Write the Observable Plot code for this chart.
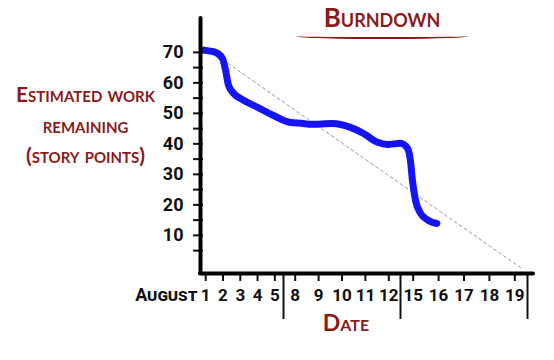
<!DOCTYPE html>
<html>
<head>
<meta charset="utf-8">
<script src="https://cdn.jsdelivr.net/npm/d3@7"></script>
<script src="https://cdn.jsdelivr.net/npm/@observablehq/plot@0.6"></script>
<style>
  body { margin: 0; background: #fff; }
  #wrap { position: relative; width: 554px; height: 360px; overflow: hidden; }
  #title {
    position: absolute; left: 296px; top: 2px; width: 172px;
    text-align: center; font-family: Lato, "DejaVu Sans", sans-serif;
    font-weight: bold; font-variant: small-caps; font-size: 26px; line-height: 30px;
    color: #8b1a1a; border-bottom: 2px solid #8b1a1a; padding-bottom: 5px; border-radius: 0 0 40% 40% / 0 0 3px 3px;
  }
</style>
</head>
<body>
<div id="wrap"><div id="title">Burndown</div></div>
<script>
// ---- data ----
const days = [1, 2, 3, 4, 5, 8, 9, 10, 11, 12, 15, 16, 17, 18, 19];
const dayIndex = days.map((d, i) => i);
const weekBreaks = [4.5, 9.5, 14.5];
const yTickLabels = [10, 20, 30, 40, 50, 60, 70];
const yMinorTicks = [5, 10, 15, 20, 25, 30, 35, 40, 45, 50, 55, 60, 65, 70];
// actual remaining work (x = working-day index, fractional within day)
const actualPos  = [-0.13, 0.57, 0.97, 1.15, 1.32, 1.61, 2.19, 3.0, 3.92, 4.8, 5.35, 5.65, 6.59, 7.36, 7.92, 8.52, 8.95, 9.5, 9.78, 9.89, 9.97, 10.09, 10.29, 10.6, 10.93];
const actualWork = [70.7, 70, 68, 64.1, 59.2, 56.6, 54.3, 52, 49.3, 47, 46.7, 46.4, 46.7, 45.4, 43.4, 40.5, 39.8, 40.2, 38.5, 34.6, 28, 21.5, 17.2, 14.9, 13.9];
// ideal burndown
const idealPos  = [-0.13, 14.3];
const idealWork = [72, -1];

const XMIN = -0.3, YMIN = -2.5, YMAX = 81.1;
const actual = actualPos.map((x, i) => ({x, y: actualWork[i]}));
const ideal = idealPos.map((x, i) => ({x, y: idealWork[i]}));

const red = "#8b1a1a";
const font = 'Roboto, "DejaVu Sans", sans-serif';
const redFont = 'Lato, "DejaVu Sans", sans-serif';

const chart = Plot.plot({
  width: 554,
  height: 360,
  marginLeft: 200,
  marginRight: 21,
  marginTop: 18,
  marginBottom: 87,
  style: {fontFamily: font, fontSize: "17px", fontWeight: "bold", background: "transparent", overflow: "visible", color: "#111"},
  x: {type: "linear", domain: [XMIN, 4.5, 9.5, 14.5], range: [200, 283, 400, 527], axis: null},
  y: {domain: [YMIN, YMAX], axis: null},
  marks: [
    // ideal line
    Plot.line(ideal, {x: "x", y: "y", stroke: "#999", strokeWidth: 1, strokeDasharray: "3,3"}),
    // actual line
    Plot.line(actual, {x: "x", y: "y", stroke: "#1414f5", strokeWidth: 7, curve: "monotone-x", strokeLinecap: "round"}),
    // y ticks
    Plot.axisY({ticks: yMinorTicks, tickSize: 10, tickFormat: () => "", label: null, dx: 3, strokeWidth: 2}),
    // x ticks
    Plot.axisX({ticks: dayIndex, tickSize: 8, tickFormat: () => "", label: null, strokeWidth: 2}),
    // week separators
    Plot.axisX({ticks: weekBreaks, tickSize: 46, tickFormat: () => "", label: null, strokeWidth: 2}),
    // axes lines
    Plot.ruleX([XMIN], {stroke: "#000", strokeWidth: 4, strokeLinecap: "round"}),
    Plot.ruleY([YMIN], {stroke: "#000", strokeWidth: 4, strokeLinecap: "round"}),
    // labels
    Plot.text(yTickLabels, {y: d => d, text: d => String(d), frameAnchor: "left", dx: -17, textAnchor: "end", fontSize: 18, fill: "#111"}),
    Plot.text(dayIndex, {x: d => d, text: i => String(days[i]), frameAnchor: "bottom", dy: 27, fill: "#111"}),
    Plot.text(["August"], {frameAnchor: "bottom-left", dx: -3, dy: 27, textAnchor: "end", fontVariant: "small-caps", fontSize: 18, fill: "#111", text: d => d}),
    Plot.text(["Date"], {frameAnchor: "bottom", dx: -21, dy: 57, fill: red, fontFamily: redFont, fontVariant: "small-caps", fontSize: 23, text: d => d}),
    Plot.text(["Estimated work\nremaining\n(story points)"], {frameAnchor: "left", dx: -115, dy: -23, textAnchor: "middle", lineHeight: 1.45, fill: red, fontFamily: redFont, fontVariant: "small-caps", fontSize: 21, text: d => d})
  ]
});
document.getElementById("wrap").prepend(chart);
</script>
</body>
</html>
